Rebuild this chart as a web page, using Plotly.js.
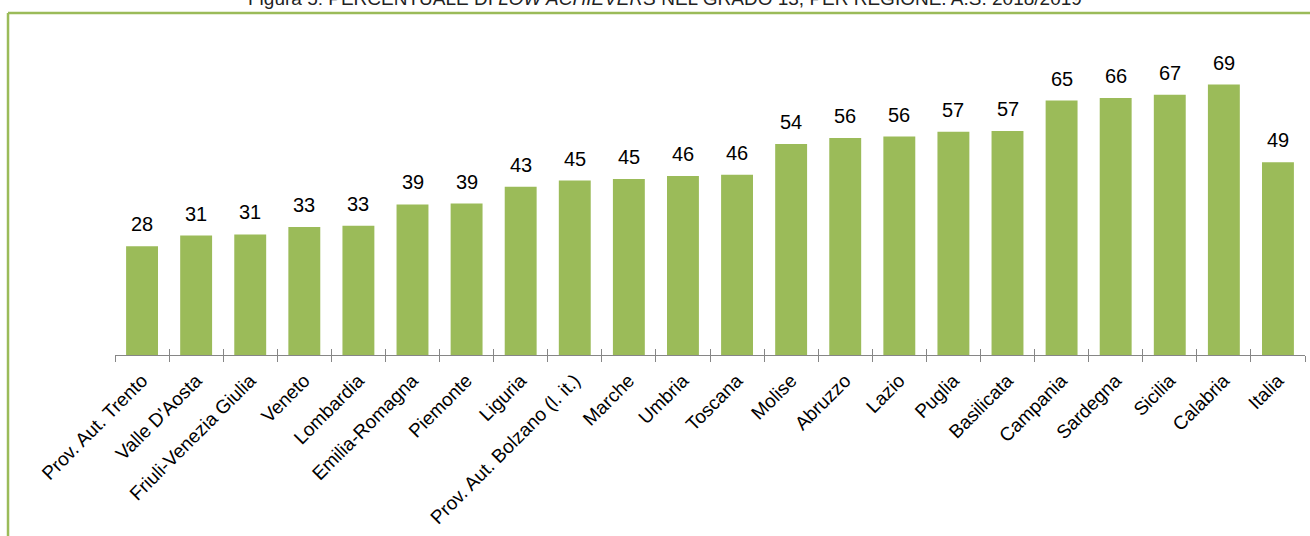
<!DOCTYPE html>
<html>
<head>
<meta charset="utf-8">
<script src="https://cdn.plot.ly/plotly-3.0.1.min.js"></script>
<style>html,body{margin:0;padding:0;background:#fff;}#chart{width:1310px;height:536px;}</style>
</head>
<body>
<div id="chart"></div>
<script>
const regions = ["Prov. Aut. Trento","Valle D'Aosta","Friuli-Venezia Giulia","Veneto","Lombardia","Emilia-Romagna","Piemonte","Liguria","Prov. Aut. Bolzano (l. it.)","Marche","Umbria","Toscana","Molise","Abruzzo","Lazio","Puglia","Basilicata","Campania","Sardegna","Sicilia","Calabria","Italia"];
const values = [27.9,30.6,30.9,32.8,33.1,38.6,38.8,43.1,44.7,45.1,45.9,46.2,54.1,55.6,56.0,57.2,57.4,65.2,65.9,66.7,69.3,49.4];
const titleText = "Figura 5: PERCENTUALE DI <i>LOW ACHIEVERS</i> NEL GRADO 13, PER REGIONE. A.S. 2018/2019";

const green = "#9BBB59";
const data = [{
  type: "bar",
  x: regions,
  y: values,
  marker: {color: green},
  hoverinfo: "x+y"
}, {
  type: "bar", x: regions, y: values.map(() => 0), xaxis: "x2", yaxis: "y",
  marker: {color: "rgba(0,0,0,0)"}, hoverinfo: "skip", showlegend: false
}];

const valueLabels = regions.map((r, i) => ({
  x: r, y: values[i], xref: "x", yref: "y",
  text: String(Math.round(values[i])),
  showarrow: false, xanchor: "center", yanchor: "bottom", yshift: 9,
  font: {family: "Liberation Sans, Arial, sans-serif", size: 20, color: "#000"}
}));

const layout = {
  width: 1310, height: 536,
  margin: {l: 115, r: 5, t: 30, b: 181},
  paper_bgcolor: "#fff", plot_bgcolor: "#fff",
  bargap: 0.41,
  showlegend: false,
  xaxis: {
    type: "category",
    tickangle: -45,
    tickson: "boundaries",
    ticks: "outside", ticklen: 6, tickcolor: "#868686", tickwidth: 1,
    ticklabelstandoff: 6,
    showline: true, linecolor: "#868686", linewidth: 1,
    showgrid: false,
    tickfont: {family: "Liberation Sans, Arial, sans-serif", size: 19, color: "#000"},
    fixedrange: true
  },
  xaxis2: {
    type: "category",
    overlaying: "x", side: "bottom", matches: "x",
    tickson: "boundaries",
    ticks: "inside", ticklen: 6, tickcolor: "#868686", tickwidth: 1,
    showticklabels: false, showgrid: false, showline: false
  },
  yaxis: {
    range: [0, 83.3],
    visible: false, showgrid: false, zeroline: false, fixedrange: true
  },
  shapes: [
    {type: "line", xref: "paper", yref: "paper", x0: -0.0899, x1: 1.01, y0: 1.0523, y1: 1.0523, line: {color: green, width: 2.5}},
    {type: "line", xref: "paper", yref: "paper", x0: -0.0899, x1: -0.0899, y0: 1.0523, y1: -0.6, line: {color: green, width: 2.5}}
  ],
  annotations: valueLabels.concat([{
    text: titleText, xref: "paper", yref: "paper",
    x: (665 - 115) / 1190, y: (355 + 1) / 325,
    xanchor: "center", yanchor: "middle", showarrow: false,
    font: {family: "Liberation Sans Narrow, Arial Narrow, sans-serif", size: 19, color: "#222"}
  }])
};

Plotly.newPlot("chart", data, layout, {displayModeBar: false, staticPlot: true});
</script>
</body>
</html>
